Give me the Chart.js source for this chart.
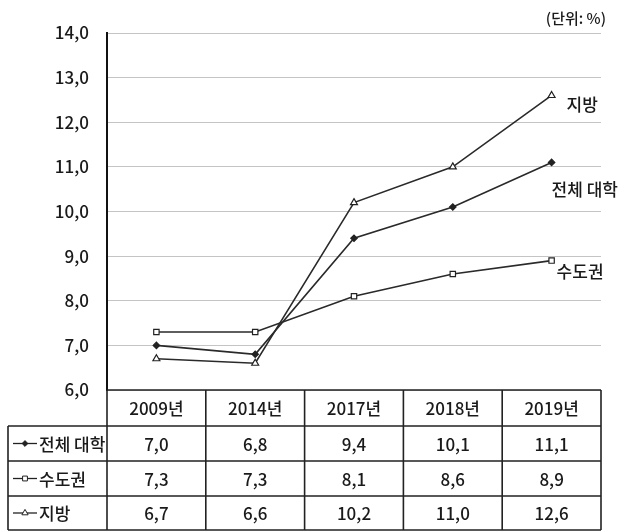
<!DOCTYPE html>
<html><head><meta charset="utf-8">
<script src="https://cdn.jsdelivr.net/npm/chart.js@4"></script>
<style>html,body{margin:0;padding:0;background:#fff;}canvas{display:block;}</style>
</head><body>
<canvas id="c" width="618" height="531"></canvas>
<script>
const categories = ['2009년','2014년','2017년','2018년','2019년'];
const seriesNames = ['전체 대학','수도권','지방'];
const allUniv = [7.0, 6.8, 9.4, 10.1, 11.1];
const capital = [7.3, 7.3, 8.1, 8.6, 8.9];
const regional = [6.7, 6.6, 10.2, 11.0, 12.6];
const unitLabel = '(단위: %)';
const yMin = 6, yMax = 14, yStep = 1;

const FONT = "'Noto Sans CJK KR', 'Noto Sans', sans-serif";
const W = '500 ';
const fmt = v => v.toFixed(1).replace('.', ',');

const seriesData = [allUniv, capital, regional];
const styles = [
  {pointStyle:'rectRot', radius:3.2, bg:'#222'},
  {pointStyle:'rect', radius:3.8, bg:'#fff'},
  {pointStyle:'triangle', radius:4, bg:'#fff'}
];
const labelOffsets = [[0, 27], [5, 11], [15, 9]];

const tablePlugin = {
  id: 'tablePlugin',
  afterDraw(chart) {
    const ctx = chart.ctx;
    const xs = chart.scales.x, ys = chart.scales.y;
    const a = chart.chartArea;
    const colW = xs.getPixelForValue(1) - xs.getPixelForValue(0);
    const tableLeft = 8;
    const hTop = a.bottom, hBot = hTop + 36;
    const rowH = 35;
    const rowsY = [hBot, hBot + rowH, hBot + 2*rowH, hBot + 3*rowH - 1];
    ctx.save();
    ctx.strokeStyle = '#222';
    ctx.lineWidth = 1.6;
    ctx.beginPath();
    ctx.moveTo(a.left, hTop); ctx.lineTo(a.right, hTop);
    rowsY.forEach(y => { ctx.moveTo(tableLeft, y); ctx.lineTo(a.right, y); });
    ctx.moveTo(tableLeft, hBot); ctx.lineTo(tableLeft, rowsY[3]);
    for (let i = 0; i <= categories.length; i++) {
      const x = i < categories.length ? xs.getPixelForValue(i) - colW/2 : a.right;
      ctx.moveTo(x, hTop); ctx.lineTo(x, rowsY[3]);
    }
    ctx.stroke();
    ctx.fillStyle = '#1a1a1a';
    ctx.font = W + '17px ' + FONT;
    ctx.textAlign = 'center'; ctx.textBaseline = 'middle';
    categories.forEach((c, i) => ctx.fillText(c, xs.getPixelForValue(i), (hTop + hBot)/2 + 1));
    seriesData.forEach((arr, r) => {
      const cy = (rowsY[r] + rowsY[r+1]) / 2 + 1;
      arr.forEach((v, i) => ctx.fillText(fmt(v), xs.getPixelForValue(i), cy));
      // legend key
      ctx.beginPath();
      ctx.strokeStyle = '#222';
      ctx.lineWidth = 1.3;
      ctx.moveTo(13, cy - 1); ctx.lineTo(37, cy - 1); ctx.stroke();
      ctx.fillStyle = styles[r].bg; ctx.lineWidth = 1;
      Chart.helpers.drawPoint(ctx, {pointStyle: styles[r].pointStyle, radius: styles[r].radius*0.9, rotation: 0, borderWidth: 1}, 25, cy - 1);
      ctx.fillStyle = '#1a1a1a';
      ctx.textAlign = 'left';
      ctx.fillText(seriesNames[r], 39, cy);
      ctx.textAlign = 'center';
    });
    // series end labels
    ctx.font = W + '17px ' + FONT;
    ctx.textAlign = 'left';
    seriesData.forEach((arr, r) => {
      const last = arr.length - 1;
      const px = xs.getPixelForValue(last), py = ys.getPixelForValue(arr[last]);
      ctx.fillText(seriesNames[r], px + labelOffsets[r][0], py + labelOffsets[r][1]);
    });
    // unit label
    ctx.font = W + '15px ' + FONT;
    ctx.textAlign = 'right';
    ctx.fillText(unitLabel, 606, 18);
    ctx.restore();
  }
};

new Chart(document.getElementById('c'), {
  type: 'line',
  data: {
    labels: categories,
    datasets: seriesData.map((d, i) => ({
      label: seriesNames[i],
      data: d,
      borderColor: '#2a2a2a',
      borderWidth: 1.6,
      pointStyle: styles[i].pointStyle,
      pointRadius: styles[i].radius,
      pointBackgroundColor: styles[i].bg,
      pointBorderColor: '#222',
      pointBorderWidth: 1.2,
      tension: 0
    }))
  },
  options: {
    responsive: false,
    animation: false,
    devicePixelRatio: 1,
    layout: {padding: {left: 0, top: 33, right: 17, bottom: 141}},
    plugins: {legend: {display: false}, tooltip: {enabled: false}},
    scales: {
      x: {display: false, offset: true},
      y: {
        min: yMin, max: yMax,
        afterFit(s) { s.width = 107; },
        ticks: {stepSize: yStep, padding: 18, color: '#1a1a1a', font: {family: FONT, size: 17, weight: '500'},
                callback: v => fmt(v)},
        grid: {color: '#c4c4c4', lineWidth: 1, drawTicks: false},
        border: {color: '#111', width: 2}
      }
    }
  },
  plugins: [tablePlugin]
});
</script>
</body></html>
